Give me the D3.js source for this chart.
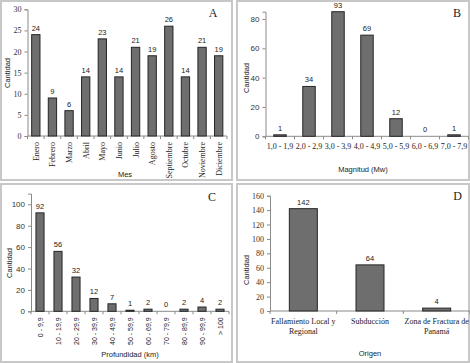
<!DOCTYPE html>
<html>
<head>
<meta charset="utf-8">
<script src="https://cdn.jsdelivr.net/npm/d3@7/dist/d3.min.js"></script>
<style>
  body { margin: 0; background: #fff; }
  svg { display: block; opacity: 0.999; }
</style>
</head>
<body>
<div id="chart"></div>
<script>
// data
var mesCats = ["Enero", "Febrero", "Marzo", "Abril", "Mayo", "Junio", "Julio", "Agosto", "Septiembre", "Octubre", "Noviembre", "Diciembre"];
var mesVals = [24, 9, 6, 14, 23, 14, 21, 19, 26, 14, 21, 19];
var mesTicks = [0, 5, 10, 15, 20, 25, 30];

var magCats = ["1,0 - 1,9", "2,0 - 2,9", "3,0 - 3,9", "4,0 - 4,9", "5,0 - 5,9", "6,0 - 6,9", "7,0 - 7,9"];
var magVals = [1, 34, 93, 69, 12, 0, 1];
var magTicks = [0, 20, 40, 60, 80];

var profCats = ["0 - 9,9", "10 - 19,9", "20 - 29,9", "30 - 39,9", "40 - 49,9", "50 - 59,9", "60 - 69,9", "70 - 79,9", "80 - 89,9", "90 - 99,9", "> 100"];
var profVals = [92, 56, 32, 12, 7, 1, 2, 0, 2, 4, 2];
var profTicks = [0, 20, 40, 60, 80, 100];

var origCats = ["Fallamiento Local y\nRegional", "Subducción", "Zona de Fractura de\nPanamá"];
var origVals = [142, 64, 4];
var origTicks = [0, 20, 40, 60, 80, 100, 120, 140, 160];

var serif = "'Liberation Serif', 'Times New Roman', serif";
var sans = "'Liberation Sans', Arial, sans-serif";

var svg = d3.select("#chart").append("svg")
    .attr("width", 470)
    .attr("height", 363);

svg.append("rect").attr("width", 470).attr("height", 363).attr("fill", "#fff");

function drawPanel(p) {
    var g = svg.append("g");

    // panel frame
    g.append("rect")
        .attr("x", p.box[0]).attr("y", p.box[1])
        .attr("width", p.box[2]).attr("height", p.box[3])
        .attr("fill", "#fff")
        .attr("stroke", "#c8c8c8")
        .attr("stroke-width", 2);

    var x = d3.scaleBand()
        .domain(p.cats)
        .range(p.xRange)
        .paddingInner(p.pad)
        .paddingOuter(p.pad / 2);

    var y = d3.scaleLinear()
        .domain([0, p.yMax])
        .range(p.yRange)
        .clamp(true);

    // y axis
    var yAxis = d3.axisLeft(y).tickValues(p.ticks).tickSize(3).tickPadding(3);
    var ya = g.append("g")
        .attr("transform", "translate(" + p.xRange[0] + ",0)")
        .call(yAxis);
    ya.select(".domain").attr("stroke", "#8a8a8a");
    ya.selectAll(".tick line").attr("stroke", "#8a8a8a");
    ya.selectAll("text")
        .style("font-family", p.yFont)
        .style("font-size", "8px")
        .attr("fill", "#333");

    // x axis line with ticks at category boundaries
    g.append("line")
        .attr("x1", p.xRange[0]).attr("x2", p.xRange[1])
        .attr("y1", y(0)).attr("y2", y(0))
        .attr("stroke", "#8a8a8a");
    var step = x.step();
    g.selectAll(".xtick")
        .data(d3.range(p.cats.length + 1))
        .enter().append("line")
        .attr("class", "xtick")
        .attr("x1", function(d) { return x(p.cats[0]) - step * p.pad / 2 + d * step; })
        .attr("x2", function(d) { return x(p.cats[0]) - step * p.pad / 2 + d * step; })
        .attr("y1", y(0)).attr("y2", y(0) + 3)
        .attr("stroke", "#8a8a8a");

    // bars
    g.selectAll(".bar")
        .data(p.vals)
        .enter().append("rect")
        .attr("class", "bar")
        .attr("x", function(d, i) { return x(p.cats[i]); })
        .attr("width", x.bandwidth())
        .attr("y", function(d) { return y(d); })
        .attr("height", function(d) { return y(0) - y(d); })
        .attr("fill", "#6e6e6e")
        .attr("stroke", "#262626")
        .attr("stroke-width", 1);

    // value labels
    g.selectAll(".val")
        .data(p.vals)
        .enter().append("text")
        .attr("class", "val")
        .attr("x", function(d, i) { return x(p.cats[i]) + x.bandwidth() / 2; })
        .attr("y", function(d) { return y(d) - 4; })
        .attr("text-anchor", "middle")
        .style("font-family", sans)
        .style("font-size", "7.5px")
        .attr("fill", "#222")
        .text(function(d) { return d; });

    // category labels
    if (p.rotate) {
        g.selectAll(".cat")
            .data(p.cats)
            .enter().append("text")
            .attr("class", "cat")
            .attr("transform", function(d) {
                return "translate(" + (x(d) + x.bandwidth() / 2 + 3) + "," + (y(0) + 6) + ") rotate(-90)";
            })
            .attr("text-anchor", "end")
            .style("font-family", p.xFont)
            .style("font-size", p.xSize)
            .attr("fill", "#222")
            .text(function(d) { return d; });
    } else {
        var cl = g.selectAll(".cat")
            .data(p.cats)
            .enter().append("text")
            .attr("class", "cat")
            .attr("text-anchor", "middle")
            .style("font-family", p.xFont)
            .style("font-size", p.xSize)
            .attr("fill", "#222");
        cl.each(function(d) {
            var t = d3.select(this);
            d.split("\n").forEach(function(line, k) {
                t.append("tspan")
                    .attr("x", x(d) + x.bandwidth() / 2)
                    .attr("y", y(0) + 13 + k * 9.5)
                    .text(line);
            });
        });
    }

    // axis titles
    g.append("text")
        .attr("x", p.xTitle[0]).attr("y", p.xTitle[1])
        .attr("text-anchor", "middle")
        .style("font-family", sans)
        .style("font-size", "7.5px")
        .attr("fill", "#222")
        .text(p.xLabel);

    g.append("text")
        .attr("transform", "translate(" + p.yTitle[0] + "," + p.yTitle[1] + ") rotate(-90)")
        .attr("text-anchor", "middle")
        .style("font-family", sans)
        .style("font-size", "7.5px")
        .attr("fill", "#222")
        .text("Cantidad");

    // panel letter
    g.append("text")
        .attr("x", p.letterPos[0]).attr("y", p.letterPos[1])
        .attr("text-anchor", "middle")
        .style("font-family", serif)
        .style("font-size", "12px")
        .attr("fill", "#222")
        .text(p.letter);
}

drawPanel({
    box: [1, 1, 231, 179],
    cats: mesCats, vals: mesVals, ticks: mesTicks, yMax: 30,
    xRange: [27.5, 227], yRange: [136, 9.3], pad: 0.5,
    yFont: serif, xFont: serif, xSize: "8px", rotate: true,
    xLabel: "Mes", xTitle: [125, 177], yTitle: [9.5, 73],
    letter: "A", letterPos: [213, 17]
});

drawPanel({
    box: [237, 1, 232, 179],
    cats: magCats, vals: magVals, ticks: magTicks, yMax: 85,
    xRange: [265.5, 468.5], yRange: [136.3, 11.7], pad: 0.57,
    yFont: sans, xFont: serif, xSize: "8px", rotate: false,
    xLabel: "Magnitud (Mw)", xTitle: [363, 172], yTitle: [248.5, 78],
    letter: "B", letterPos: [457, 17]
});

drawPanel({
    box: [1, 184, 231, 178],
    cats: profCats, vals: profVals, ticks: profTicks, yMax: 110,
    xRange: [31, 229], yRange: [311.3, 193.6], pad: 0.55,
    yFont: sans, xFont: sans, xSize: "7px", rotate: true,
    xLabel: "Profundidad (km)", xTitle: [130, 357], yTitle: [11.5, 263],
    letter: "C", letterPos: [212, 201]
});

drawPanel({
    box: [237, 184, 232, 178],
    cats: origCats, vals: origVals, ticks: origTicks, yMax: 160,
    xRange: [270, 470], yRange: [311, 195.7], pad: 0.58,
    yFont: serif, xFont: serif, xSize: "8px", rotate: false,
    xLabel: "Origen", xTitle: [370, 356], yTitle: [249, 270],
    letter: "D", letterPos: [457.5, 200]
});
</script>
</body>
</html>
